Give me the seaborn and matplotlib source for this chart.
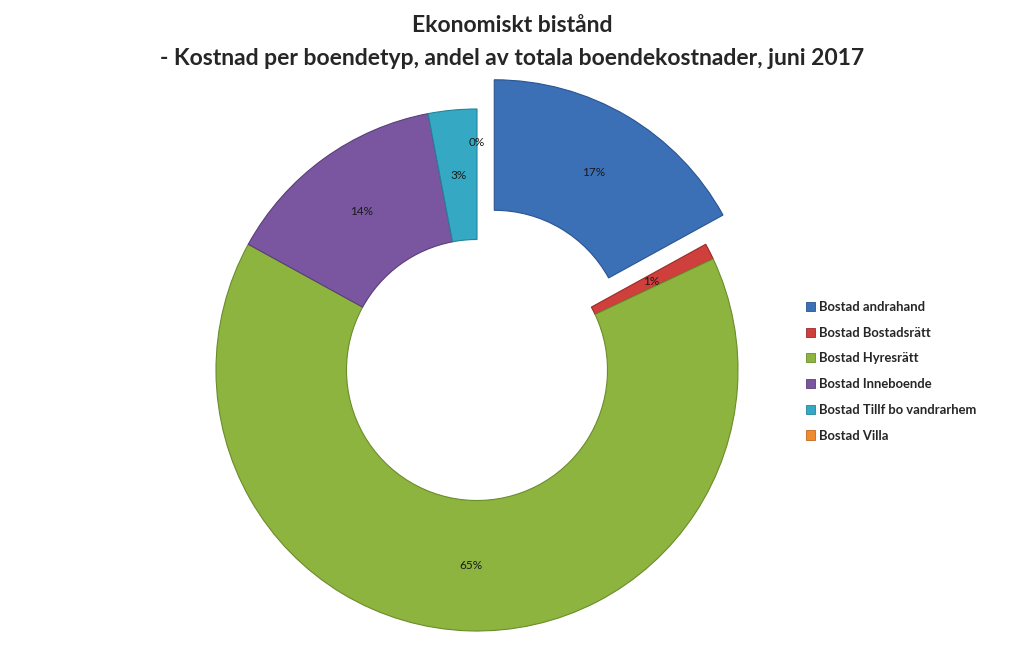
import matplotlib
matplotlib.use("Agg")
import matplotlib.pyplot as plt
from matplotlib.patches import Patch
import numpy as np
import seaborn as sns

sns.set_style("white")
plt.rcParams['font.family'] = ['Lato', 'DejaVu Sans']

# data
categories = ["Bostad andrahand", "Bostad Bostadsrätt", "Bostad Hyresrätt",
              "Bostad Inneboende", "Bostad Tillf bo vandrarhem", "Bostad Villa"]
shares = [17, 1, 65, 14, 3, 0]
pct_labels = ["17%", "1%", "65%", "14%", "3%", "0%"]
explode = [0.13, 0, 0, 0, 0, 0]

colors = ["#3b6fb6", "#cf3f3c", "#8db43f", "#7a56a0", "#35a9c4", "#ef8a2e"]
edges = ["#2a5490", "#9a2a28", "#6b8c2c", "#5a3d7a", "#22839b", "#c06a1c"]

fig = plt.figure(figsize=(10.24, 6.69), dpi=100)
W, H = 1024, 669
cx, cy, R = 477, 370, 261
ax = fig.add_axes([(cx - R) / W, (H - cy - R) / H, 2 * R / W, 2 * R / H])

wedges, _ = ax.pie(shares, explode=explode, colors=colors, startangle=90,
                   counterclock=False, radius=1.0,
                   wedgeprops=dict(width=0.5, linewidth=0.8))
for w, ec, v in zip(wedges, edges, shares):
    w.set_edgecolor(ec)
    w.set_clip_on(False)
    if v == 0:
        w.set_visible(False)

ax.set_xlim(-1, 1)
ax.set_ylim(-1, 1)
ax.set_aspect("equal")
ax.axis("off")

# percentage labels placed mid-ring (Excel style)
for i, (w, lab) in enumerate(zip(wedges, pct_labels)):
    ang = np.deg2rad((w.theta1 + w.theta2) / 2)
    r = 0.75 + explode[i]
    if lab == "0%":
        r = 0.87
    ax.text(r * np.cos(ang), r * np.sin(ang), lab, ha="center", va="center",
            fontsize=8.5, color="#1a1a1a")

fig.text(0.5, 0.962, "Ekonomiskt bistånd", ha="center", va="center",
         fontsize=16.5, fontweight="bold")
fig.text(0.5, 0.913, "- Kostnad per boendetyp, andel av totala boendekostnader, juni 2017",
         ha="center", va="center", fontsize=16.5, fontweight="bold")

handles = [Patch(facecolor=c, edgecolor=e, linewidth=0.6) for c, e in zip(colors, edges)]
fig.legend(handles, categories, loc="upper left",
           bbox_to_anchor=(806 / W, 1 - 301 / H), frameon=False,
           prop=dict(weight="bold", size=9.4), handlelength=0.7, handleheight=0.7,
           handletextpad=0.3, labelspacing=1.05, borderaxespad=0, borderpad=0)

fig.savefig("out.png", dpi=100)
